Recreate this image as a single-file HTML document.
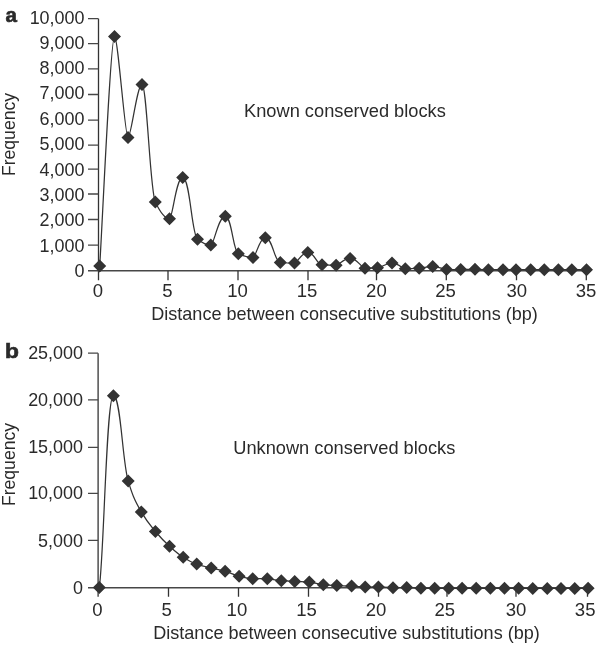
<!DOCTYPE html>
<html><head><meta charset="utf-8"><style>
html,body{margin:0;padding:0;background:#fff;}
body{width:600px;height:646px;overflow:hidden;}
svg{display:block;will-change:transform;}
.t{font-family:"Liberation Sans", sans-serif;font-size:17.5px;fill:#2a2a2a;}
.b{font-family:"Liberation Sans", sans-serif;font-size:20px;font-weight:bold;fill:#2a2a2a;stroke:#2a2a2a;stroke-width:0.6px;}
</style></head><body>
<svg width="600" height="646" viewBox="0 0 600 646">
<rect width="600" height="646" fill="#fff"/>
<path d="M98.5,18.7 V280.2" fill="none" stroke="#333333" stroke-width="1.3"/>
<path d="M88,270.75 H586.3" fill="none" stroke="#474747" stroke-width="1.3"/>
<path d="M88,245.10H98.5M88,219.50H98.5M88,194.00H98.5M88,169.20H98.5M88,145.10H98.5M88,120.10H98.5M88,94.50H98.5M88,68.95H98.5M88,43.60H98.5M88,18.70H98.5" fill="none" stroke="#474747" stroke-width="1.3"/>
<path d="M168.00,270.75V280.2M238.00,270.75V280.2M308.00,270.75V280.2M376.50,270.75V280.2M446.30,270.75V280.2M516.50,270.75V280.2M586.30,270.75V280.2" fill="none" stroke="#333333" stroke-width="1.3"/>
<text transform="translate(84.5,276.75) scale(1.025,1)" text-anchor="end" class="t">0</text>
<text transform="translate(84.5,251.65) scale(1.025,1)" text-anchor="end" class="t">1,000</text>
<text transform="translate(84.5,226.15) scale(1.025,1)" text-anchor="end" class="t">2,000</text>
<text transform="translate(84.5,201.05) scale(1.025,1)" text-anchor="end" class="t">3,000</text>
<text transform="translate(84.5,175.70) scale(1.025,1)" text-anchor="end" class="t">4,000</text>
<text transform="translate(84.5,150.30) scale(1.025,1)" text-anchor="end" class="t">5,000</text>
<text transform="translate(84.5,124.85) scale(1.025,1)" text-anchor="end" class="t">6,000</text>
<text transform="translate(84.5,99.40) scale(1.025,1)" text-anchor="end" class="t">7,000</text>
<text transform="translate(84.5,74.05) scale(1.025,1)" text-anchor="end" class="t">8,000</text>
<text transform="translate(84.5,48.70) scale(1.025,1)" text-anchor="end" class="t">9,000</text>
<text transform="translate(84.5,23.70) scale(1.025,1)" text-anchor="end" class="t">10,000</text>
<text transform="translate(97.90,296.6) scale(1.06,1)" text-anchor="middle" class="t">0</text>
<text transform="translate(167.50,296.6) scale(1.06,1)" text-anchor="middle" class="t">5</text>
<text transform="translate(237.50,296.6) scale(1.06,1)" text-anchor="middle" class="t">10</text>
<text transform="translate(307.00,296.6) scale(1.06,1)" text-anchor="middle" class="t">15</text>
<text transform="translate(376.40,296.6) scale(1.06,1)" text-anchor="middle" class="t">20</text>
<text transform="translate(445.50,296.6) scale(1.06,1)" text-anchor="middle" class="t">25</text>
<text transform="translate(516.70,296.6) scale(1.06,1)" text-anchor="middle" class="t">30</text>
<text transform="translate(586.00,296.6) scale(1.06,1)" text-anchor="middle" class="t">35</text>
<text transform="translate(151.2,319.6) scale(1.033,1)" class="t">Distance between consecutive substitutions (bp)</text>
<text transform="translate(5.4,22.0) scale(1.03,1)" class="b">a</text>
<text transform="translate(15.0,134.5) rotate(-90) scale(1.005,1)" text-anchor="middle" class="t">Frequency</text>
<text transform="translate(244.0,116.7) scale(1.043,1)" class="t">Known conserved blocks</text>
<path d="M99.70,266.00 C102.17,227.75 110.55,36.50 114.50,36.50 C118.10,36.50 124.85,137.50 128.00,137.50 C131.27,137.50 136.87,84.60 142.00,84.60 C146.88,84.60 149.98,190.87 155.30,202.00 C160.98,213.89 166.19,218.70 169.50,218.70 C172.58,218.70 176.10,177.40 182.70,177.40 C190.10,177.40 191.58,234.59 197.50,239.20 C202.82,243.34 207.70,245.00 210.80,245.00 C214.18,245.00 218.05,216.30 225.30,216.30 C231.80,216.30 233.10,251.35 238.30,253.80 C244.18,256.57 249.57,257.50 253.00,257.50 C255.87,257.50 259.15,237.80 265.30,237.80 C272.80,237.80 274.30,262.09 280.30,262.50 C285.98,262.89 291.19,263.00 294.50,263.00 C297.60,263.00 301.15,252.50 307.80,252.50 C314.90,252.50 316.32,264.24 322.00,264.70 C327.64,265.16 332.81,265.30 336.10,265.30 C339.37,265.30 343.10,258.40 350.10,258.40 C357.55,258.40 361.52,268.20 365.00,268.20 C367.92,268.20 372.50,268.09 377.50,267.80 C383.30,267.47 384.75,263.00 392.00,263.00 C398.65,263.00 402.20,268.70 405.30,268.70 C408.54,268.70 413.64,268.51 419.20,268.20 C424.60,267.90 425.95,266.60 432.70,266.60 C439.60,266.60 443.28,269.50 446.50,269.50 C449.81,269.50 457.39,269.50 460.70,269.50 C464.04,269.50 467.85,269.30 475.00,269.30 C481.70,269.30 485.27,269.70 488.40,269.70 C491.81,269.70 499.59,269.70 503.00,269.70 C506.03,269.70 512.97,269.70 516.00,269.70 C519.43,269.70 527.27,269.70 530.70,269.70 C533.87,269.70 541.13,269.70 544.30,269.70 C547.59,269.70 555.11,269.70 558.40,269.70 C561.53,269.70 568.67,269.70 571.80,269.70 C575.23,269.70 584.05,269.78 586.50,269.80" fill="none" stroke="#333333" stroke-width="1.25"/>
<path d="M99.70,259.50L106.20,266.00L99.70,272.50L93.20,266.00ZM114.50,30.00L121.00,36.50L114.50,43.00L108.00,36.50ZM128.00,131.00L134.50,137.50L128.00,144.00L121.50,137.50ZM142.00,78.10L148.50,84.60L142.00,91.10L135.50,84.60ZM155.30,195.50L161.80,202.00L155.30,208.50L148.80,202.00ZM169.50,212.20L176.00,218.70L169.50,225.20L163.00,218.70ZM182.70,170.90L189.20,177.40L182.70,183.90L176.20,177.40ZM197.50,232.70L204.00,239.20L197.50,245.70L191.00,239.20ZM210.80,238.50L217.30,245.00L210.80,251.50L204.30,245.00ZM225.30,209.80L231.80,216.30L225.30,222.80L218.80,216.30ZM238.30,247.30L244.80,253.80L238.30,260.30L231.80,253.80ZM253.00,251.00L259.50,257.50L253.00,264.00L246.50,257.50ZM265.30,231.30L271.80,237.80L265.30,244.30L258.80,237.80ZM280.30,256.00L286.80,262.50L280.30,269.00L273.80,262.50ZM294.50,256.50L301.00,263.00L294.50,269.50L288.00,263.00ZM307.80,246.00L314.30,252.50L307.80,259.00L301.30,252.50ZM322.00,258.20L328.50,264.70L322.00,271.20L315.50,264.70ZM336.10,258.80L342.60,265.30L336.10,271.80L329.60,265.30ZM350.10,251.90L356.60,258.40L350.10,264.90L343.60,258.40ZM365.00,261.70L371.50,268.20L365.00,274.70L358.50,268.20ZM377.50,261.30L384.00,267.80L377.50,274.30L371.00,267.80ZM392.00,256.50L398.50,263.00L392.00,269.50L385.50,263.00ZM405.30,262.20L411.80,268.70L405.30,275.20L398.80,268.70ZM419.20,261.70L425.70,268.20L419.20,274.70L412.70,268.20ZM432.70,260.10L439.20,266.60L432.70,273.10L426.20,266.60ZM446.50,263.00L453.00,269.50L446.50,276.00L440.00,269.50ZM460.70,263.00L467.20,269.50L460.70,276.00L454.20,269.50ZM475.00,262.80L481.50,269.30L475.00,275.80L468.50,269.30ZM488.40,263.20L494.90,269.70L488.40,276.20L481.90,269.70ZM503.00,263.20L509.50,269.70L503.00,276.20L496.50,269.70ZM516.00,263.20L522.50,269.70L516.00,276.20L509.50,269.70ZM530.70,263.20L537.20,269.70L530.70,276.20L524.20,269.70ZM544.30,263.20L550.80,269.70L544.30,276.20L537.80,269.70ZM558.40,263.20L564.90,269.70L558.40,276.20L551.90,269.70ZM571.80,263.20L578.30,269.70L571.80,276.20L565.30,269.70ZM586.50,263.30L593.00,269.80L586.50,276.30L580.00,269.80Z" fill="#333333"/>
<path d="M98.1,353.2 V596.8" fill="none" stroke="#333333" stroke-width="1.3"/>
<path d="M88,587.75 H587.5" fill="none" stroke="#474747" stroke-width="1.3"/>
<path d="M88,540.40H98.1M88,493.40H98.1M88,447.30H98.1M88,399.80H98.1M88,353.20H98.1" fill="none" stroke="#474747" stroke-width="1.3"/>
<path d="M168.50,587.75V596.8M238.50,587.75V596.8M308.50,587.75V596.8M378.50,587.75V596.8M447.00,587.75V596.8M516.00,587.75V596.8M587.50,587.75V596.8" fill="none" stroke="#333333" stroke-width="1.3"/>
<text transform="translate(83.0,593.50) scale(1.025,1)" text-anchor="end" class="t">0</text>
<text transform="translate(83.0,546.75) scale(1.025,1)" text-anchor="end" class="t">5,000</text>
<text transform="translate(83.0,499.45) scale(1.025,1)" text-anchor="end" class="t">10,000</text>
<text transform="translate(83.0,452.90) scale(1.025,1)" text-anchor="end" class="t">15,000</text>
<text transform="translate(83.0,405.85) scale(1.025,1)" text-anchor="end" class="t">20,000</text>
<text transform="translate(83.0,359.00) scale(1.025,1)" text-anchor="end" class="t">25,000</text>
<text transform="translate(97.50,616.0) scale(1.06,1)" text-anchor="middle" class="t">0</text>
<text transform="translate(166.70,616.0) scale(1.06,1)" text-anchor="middle" class="t">5</text>
<text transform="translate(236.90,616.0) scale(1.06,1)" text-anchor="middle" class="t">10</text>
<text transform="translate(306.50,616.0) scale(1.06,1)" text-anchor="middle" class="t">15</text>
<text transform="translate(376.00,616.0) scale(1.06,1)" text-anchor="middle" class="t">20</text>
<text transform="translate(444.70,616.0) scale(1.06,1)" text-anchor="middle" class="t">25</text>
<text transform="translate(516.05,616.0) scale(1.06,1)" text-anchor="middle" class="t">30</text>
<text transform="translate(585.15,616.0) scale(1.06,1)" text-anchor="middle" class="t">35</text>
<text transform="translate(153.2,639.2) scale(1.033,1)" class="t">Distance between consecutive substitutions (bp)</text>
<text transform="translate(5.0,357.5) scale(1.14,1)" class="b">b</text>
<text transform="translate(15.0,464.5) rotate(-90) scale(1.005,1)" text-anchor="middle" class="t">Frequency</text>
<text transform="translate(233.2,453.8) scale(1.043,1)" class="t">Unknown conserved blocks</text>
<path d="M99.30,587.50 C104.00,555.53 106.35,395.70 113.40,395.70 C120.80,395.70 122.28,461.49 128.20,481.10 C133.44,498.46 136.06,502.72 141.30,511.90 C146.94,521.79 149.76,524.78 155.40,531.50 C161.04,538.22 163.86,541.09 169.50,546.20 C174.98,551.17 177.72,553.78 183.20,557.20 C188.60,560.57 191.30,562.19 196.70,564.10 C202.50,566.15 205.40,566.56 211.20,568.00 C216.76,569.38 219.54,569.63 225.10,571.20 C230.70,572.78 233.50,574.97 239.10,576.30 C244.54,577.59 249.53,578.70 252.70,578.70 C256.11,578.70 263.89,578.70 267.30,578.70 C270.57,578.70 275.70,580.23 281.30,580.70 C286.66,581.15 289.34,581.24 294.70,581.50 C300.54,581.79 303.46,581.70 309.30,582.10 C314.90,582.48 317.70,584.34 323.30,584.80 C328.70,585.24 331.40,585.25 336.80,585.50 C342.72,585.77 345.68,585.79 351.60,586.10 C357.04,586.39 362.03,587.10 365.20,587.10 C368.28,587.10 371.80,586.90 378.40,586.90 C385.70,586.90 389.59,587.70 393.00,587.70 C396.20,587.70 399.85,587.50 406.70,587.50 C413.80,587.50 417.59,588.30 420.90,588.30 C424.12,588.30 431.48,588.30 434.70,588.30 C437.97,588.30 445.43,588.30 448.70,588.30 C451.83,588.30 458.97,588.30 462.10,588.30 C465.39,588.30 472.91,588.30 476.20,588.30 C479.51,588.30 487.09,588.30 490.40,588.30 C493.69,588.30 501.21,588.30 504.50,588.30 C507.79,588.30 515.31,588.30 518.60,588.30 C521.90,588.30 529.45,588.50 532.75,588.50 C536.13,588.50 540.00,588.40 547.25,588.40 C554.12,588.40 557.79,588.40 561.00,588.40 C564.21,588.40 571.54,588.40 574.75,588.40 C577.87,588.40 583.65,588.32 588.10,588.30" fill="none" stroke="#333333" stroke-width="1.25"/>
<path d="M99.30,581.00L105.80,587.50L99.30,594.00L92.80,587.50ZM113.40,389.20L119.90,395.70L113.40,402.20L106.90,395.70ZM128.20,474.60L134.70,481.10L128.20,487.60L121.70,481.10ZM141.30,505.40L147.80,511.90L141.30,518.40L134.80,511.90ZM155.40,525.00L161.90,531.50L155.40,538.00L148.90,531.50ZM169.50,539.70L176.00,546.20L169.50,552.70L163.00,546.20ZM183.20,550.70L189.70,557.20L183.20,563.70L176.70,557.20ZM196.70,557.60L203.20,564.10L196.70,570.60L190.20,564.10ZM211.20,561.50L217.70,568.00L211.20,574.50L204.70,568.00ZM225.10,564.70L231.60,571.20L225.10,577.70L218.60,571.20ZM239.10,569.80L245.60,576.30L239.10,582.80L232.60,576.30ZM252.70,572.20L259.20,578.70L252.70,585.20L246.20,578.70ZM267.30,572.20L273.80,578.70L267.30,585.20L260.80,578.70ZM281.30,574.20L287.80,580.70L281.30,587.20L274.80,580.70ZM294.70,575.00L301.20,581.50L294.70,588.00L288.20,581.50ZM309.30,575.60L315.80,582.10L309.30,588.60L302.80,582.10ZM323.30,578.30L329.80,584.80L323.30,591.30L316.80,584.80ZM336.80,579.00L343.30,585.50L336.80,592.00L330.30,585.50ZM351.60,579.60L358.10,586.10L351.60,592.60L345.10,586.10ZM365.20,580.60L371.70,587.10L365.20,593.60L358.70,587.10ZM378.40,580.40L384.90,586.90L378.40,593.40L371.90,586.90ZM393.00,581.20L399.50,587.70L393.00,594.20L386.50,587.70ZM406.70,581.00L413.20,587.50L406.70,594.00L400.20,587.50ZM420.90,581.80L427.40,588.30L420.90,594.80L414.40,588.30ZM434.70,581.80L441.20,588.30L434.70,594.80L428.20,588.30ZM448.70,581.80L455.20,588.30L448.70,594.80L442.20,588.30ZM462.10,581.80L468.60,588.30L462.10,594.80L455.60,588.30ZM476.20,581.80L482.70,588.30L476.20,594.80L469.70,588.30ZM490.40,581.80L496.90,588.30L490.40,594.80L483.90,588.30ZM504.50,581.80L511.00,588.30L504.50,594.80L498.00,588.30ZM518.60,581.80L525.10,588.30L518.60,594.80L512.10,588.30ZM532.75,582.00L539.25,588.50L532.75,595.00L526.25,588.50ZM547.25,581.90L553.75,588.40L547.25,594.90L540.75,588.40ZM561.00,581.90L567.50,588.40L561.00,594.90L554.50,588.40ZM574.75,581.90L581.25,588.40L574.75,594.90L568.25,588.40ZM588.10,581.80L594.60,588.30L588.10,594.80L581.60,588.30Z" fill="#333333"/>
</svg>
</body></html>
